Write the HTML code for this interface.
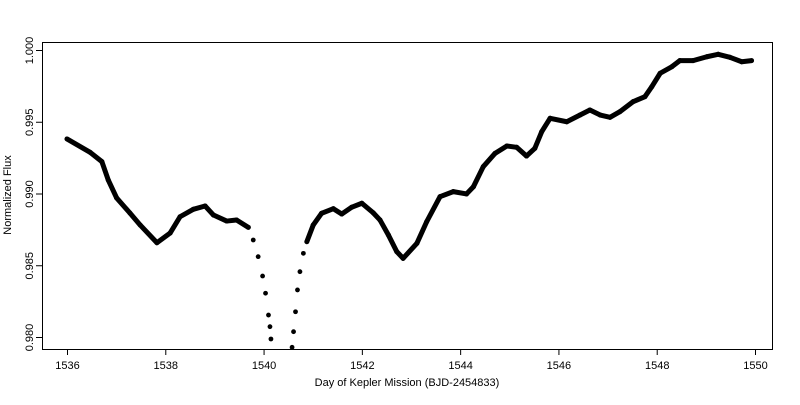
<!DOCTYPE html>
<html><head><meta charset="utf-8"><style>
body{margin:0;background:#fff}
svg text{font-family:"Liberation Sans",Arial,sans-serif;font-size:11px;fill:#000}
</style></head><body>
<svg id="chart" width="800" height="400" xmlns="http://www.w3.org/2000/svg">
<defs><clipPath id="pc"><rect x="42" y="42" width="730" height="307"/></clipPath></defs>
<g id="axes"></g>
<g id="marks" clip-path="url(#pc)"></g>
<rect x="42.5" y="42.5" width="730" height="307" fill="none" stroke="#000" stroke-width="1"/>
<text x="407" y="386" text-anchor="middle">Day of Kepler Mission (BJD-2454833)</text>
<text transform="translate(11,195) rotate(-90)" text-anchor="middle">Normalized Flux</text>
</svg>
<script>
const days=[1536.00,1536.47,1536.71,1536.84,1537.01,1537.28,1537.49,1537.83,1538.10,1538.30,1538.57,1538.81,1538.98,1539.25,1539.45,1539.69,1539.79,1539.89,1539.98,1540.04,1540.10,1540.13,1540.15,1540.58,1540.61,1540.65,1540.69,1540.74,1540.81,1540.88,1541.01,1541.18,1541.42,1541.59,1541.79,1542.00,1542.23,1542.37,1542.54,1542.71,1542.84,1543.12,1543.32,1543.59,1543.86,1544.13,1544.27,1544.47,1544.71,1544.95,1545.15,1545.35,1545.52,1545.66,1545.83,1546.17,1546.44,1546.64,1546.85,1547.05,1547.25,1547.52,1547.76,1547.90,1548.07,1548.31,1548.47,1548.74,1549.02,1549.25,1549.49,1549.73,1549.93];
const flux=[0.99380,0.99287,0.99222,0.99094,0.98969,0.98864,0.98780,0.98657,0.98725,0.98838,0.98890,0.98913,0.98850,0.98808,0.98815,0.98764,0.98676,0.98560,0.98425,0.98305,0.98153,0.98072,0.97986,0.97928,0.98037,0.98176,0.98328,0.98455,0.98583,0.98664,0.98780,0.98862,0.98894,0.98857,0.98904,0.98932,0.98866,0.98815,0.98711,0.98595,0.98548,0.98653,0.98804,0.98978,0.99013,0.98997,0.99047,0.99187,0.99280,0.99331,0.99322,0.99261,0.99315,0.99431,0.99524,0.99500,0.99547,0.99582,0.99547,0.99531,0.99570,0.99640,0.99675,0.99744,0.99838,0.99884,0.99926,0.99926,0.99953,0.99970,0.99949,0.99918,0.99926];
const xTicks=[1536,1538,1540,1542,1544,1546,1548,1550];
const yTicks=[0.980,0.985,0.990,0.995,1.000];
const NS="http://www.w3.org/2000/svg";
function xs(d){return 67+(d-1536)*(755-67)/14;}
function ys(f){return 50+(1.000-f)*(337-50)/0.020;}
function mk(t,a,p){const e=document.createElementNS(NS,t);for(const k in a)e.setAttribute(k,a[k]);p.appendChild(e);return e;}
const ax=document.getElementById('axes'),mg=document.getElementById('marks');
xTicks.forEach(v=>{const x=xs(v)+0.5;
const l=mk('line',{x1:x,x2:x,y1:349,y2:355,stroke:'#000'},ax);


const t=mk('text',{x:x,y:369,'text-anchor':'middle'},ax);t.textContent=v;

});
yTicks.forEach(v=>{const y=ys(v)+0.5;
const l=mk('line',{x1:36,x2:42,y1:y,y2:y,stroke:'#000'},ax);


const t=mk('text',{transform:`translate(33,${y}) rotate(-90)`,'text-anchor':'middle'},ax);t.textContent=v.toFixed(3);

});
function inEclipse(d){return d>1539.75&&d<1540.85;}
for(let i=1;i<days.length;i++){
if(inEclipse(days[i-1])||inEclipse(days[i]))continue;
const x1=xs(days[i-1]),y1=ys(flux[i-1]),x2=xs(days[i]),y2=ys(flux[i]);
const s=mk('line',{x1:x1,y1:y1,x2:x2,y2:y2,stroke:'#000','stroke-width':5,'stroke-linecap':'round'},mg);

}
days.forEach((d,i)=>{const c=mk('circle',{cx:xs(d),cy:ys(flux[i]),r:2.4,fill:'#000'},mg);

});
</script>
</body></html>
